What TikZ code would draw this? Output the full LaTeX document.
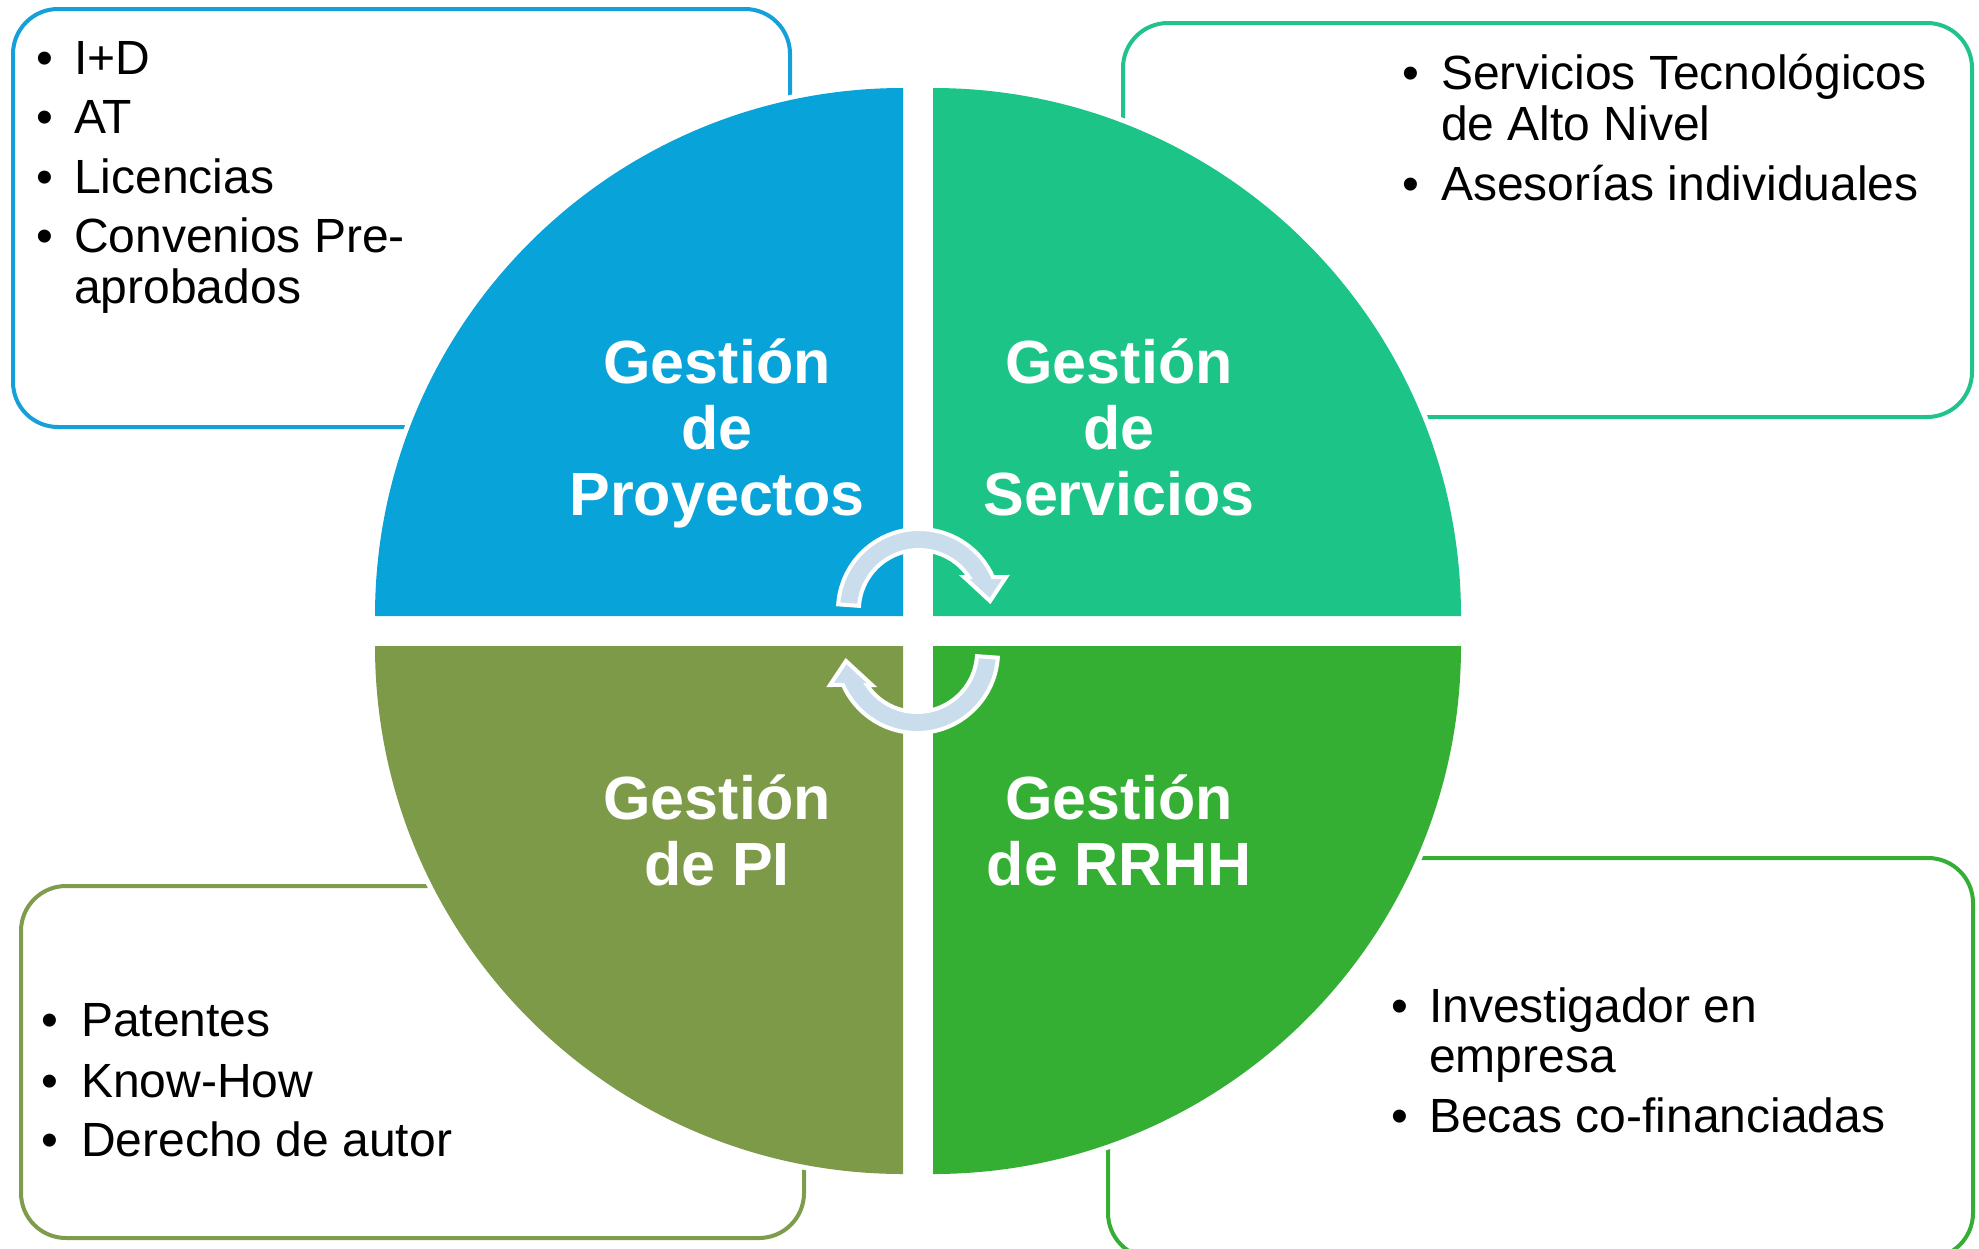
\documentclass[tikz,border=0pt]{standalone}
\usepackage{fontspec}
\setmainfont{Liberation Sans}
\definecolor{qblue}{HTML}{07A3D9}
\definecolor{qteal}{HTML}{1CC488}
\definecolor{qolive}{HTML}{7C9A48}
\definecolor{qgreen}{HTML}{35AE34}
\definecolor{bblue}{HTML}{15A0DA}
\definecolor{bteal}{HTML}{20C48B}
\definecolor{bolive}{HTML}{7F9B4C}
\definecolor{bgreen}{HTML}{36AE36}
\definecolor{arrowblue}{HTML}{C9DDED}
\begin{document}
\begin{tikzpicture}[x=1pt,y=-1pt,
  bul/.style={anchor=base, inner sep=0pt, font=\fontsize{48}{58}\selectfont},
  itm/.style={anchor=base west, inner sep=0pt, font=\fontsize{48}{58}\selectfont},
  lbl/.style={anchor=base, inner sep=0pt, text=white, font=\bfseries\fontsize{61}{66}\selectfont},
  boxline/.style={line width=4pt, rounded corners=45pt},
  halo/.style={draw=white, line width=10pt},
  arr/.style={fill=arrowblue, draw=white, line width=4pt, line join=miter}]
\useasboundingbox (0,0) rectangle (1979,1248);
\fill[white] (0,0) rectangle (1979,1248);
\clip (0,0) rectangle (1979,1248);

% boxes
\draw[boxline, draw=bblue]  (13,9) rectangle (790,427);
\draw[boxline, draw=bteal]  (1123,23) rectangle (1972,417);
\draw[boxline, draw=bolive] (21,886) rectangle (804,1238);
\draw[boxline, draw=bgreen] (1108,858) rectangle (1973,1258);

% white halos around quadrants
\draw[halo] (375,616) arc[start angle=180, end angle=270, radius=528];
\draw[halo] (933,88) arc[start angle=270, end angle=360, radius=528];
\draw[halo] (1461,646) arc[start angle=0, end angle=90, radius=528];
\draw[halo] (903,1174) arc[start angle=90, end angle=180, radius=528];

% quadrants
\fill[qblue]  (903,616) -- (375,616) arc[start angle=180, end angle=270, radius=528] -- cycle;
\fill[qteal]  (933,616) -- (933,88) arc[start angle=270, end angle=360, radius=528] -- cycle;
\fill[qgreen] (933,646) -- (1461,646) arc[start angle=0, end angle=90, radius=528] -- cycle;
\fill[qolive] (903,646) -- (903,1174) arc[start angle=90, end angle=180, radius=528] -- cycle;

% labels
\node[lbl] (p1) at (717,383) {Gestión};
\node[lbl] (p2) at (717,449) {de};
\node[lbl] (p3) at (717,515) {Proyectos};
\node[lbl] (s1) at (1119,383) {Gestión};
\node[lbl] (s2) at (1119,449) {de};
\node[lbl] (s3) at (1119,515) {Servicios};
\node[lbl] (i1) at (717,819) {Gestión};
\node[lbl] (i2) at (717,885) {de PI};
\node[lbl] (r1) at (1119,819) {Gestión};
\node[lbl] (r2) at (1119,885) {de RRHH};

% cyclic arrows (centre of arc at (919,610))
\filldraw[arr] (838.2,604.35) arc[start angle=184, end angle=336, radius=81]
  -- (1006,577) -- (990,601) -- (964,577) -- (969,577)
  arc[start angle=326.6, end angle=184, radius=60] -- cycle;
\begin{scope}[rotate around={180:(918,631)}]
\filldraw[arr] (838.2,604.35) arc[start angle=184, end angle=336, radius=81]
  -- (1006,577) -- (990,601) -- (964,577) -- (969,577)
  arc[start angle=326.6, end angle=184, radius=60] -- cycle;
\end{scope}

% top-left bullets
\node[bul] (tlb1) at (45,74) {•};  \node[itm] (tlt1) at (74,74) {I+D};
\node[bul] (tlb2) at (45,133) {•}; \node[itm] (tlt2) at (74,133) {AT};
\node[bul] (tlb3) at (45,193) {•}; \node[itm] (tlt3) at (74,193) {Licencias};
\node[bul] (tlb4) at (45,252) {•}; \node[itm] (tlt4) at (74,252) {Convenios Pre-};
\node[itm] (tlt5) at (74,303) {aprobados};

% top-right bullets
\node[bul] (trb1) at (1411,89) {•};  \node[itm] (trt1) at (1441,89) {Servicios Tecnológicos};
\node[itm] (trt2) at (1441,140) {de Alto Nivel};
\node[bul] (trb3) at (1411,200) {•}; \node[itm] (trt3) at (1441,200) {Asesorías individuales};

% bottom-left bullets
\node[bul] (blb1) at (50,1036) {•}; \node[itm] (blt1) at (81,1036) {Patentes};
\node[bul] (blb2) at (50,1097) {•}; \node[itm] (blt2) at (81,1097) {Know-How};
\node[bul] (blb3) at (50,1156) {•}; \node[itm] (blt3) at (81,1156) {Derecho de autor};

% bottom-right bullets
\node[bul] (brb1) at (1400,1022) {•}; \node[itm] (brt1) at (1429,1022) {Investigador en};
\node[itm] (brt2) at (1429,1072) {empresa};
\node[bul] (brb3) at (1400,1132) {•}; \node[itm] (brt3) at (1429,1132) {Becas co-financiadas};
\end{tikzpicture}
\end{document}
